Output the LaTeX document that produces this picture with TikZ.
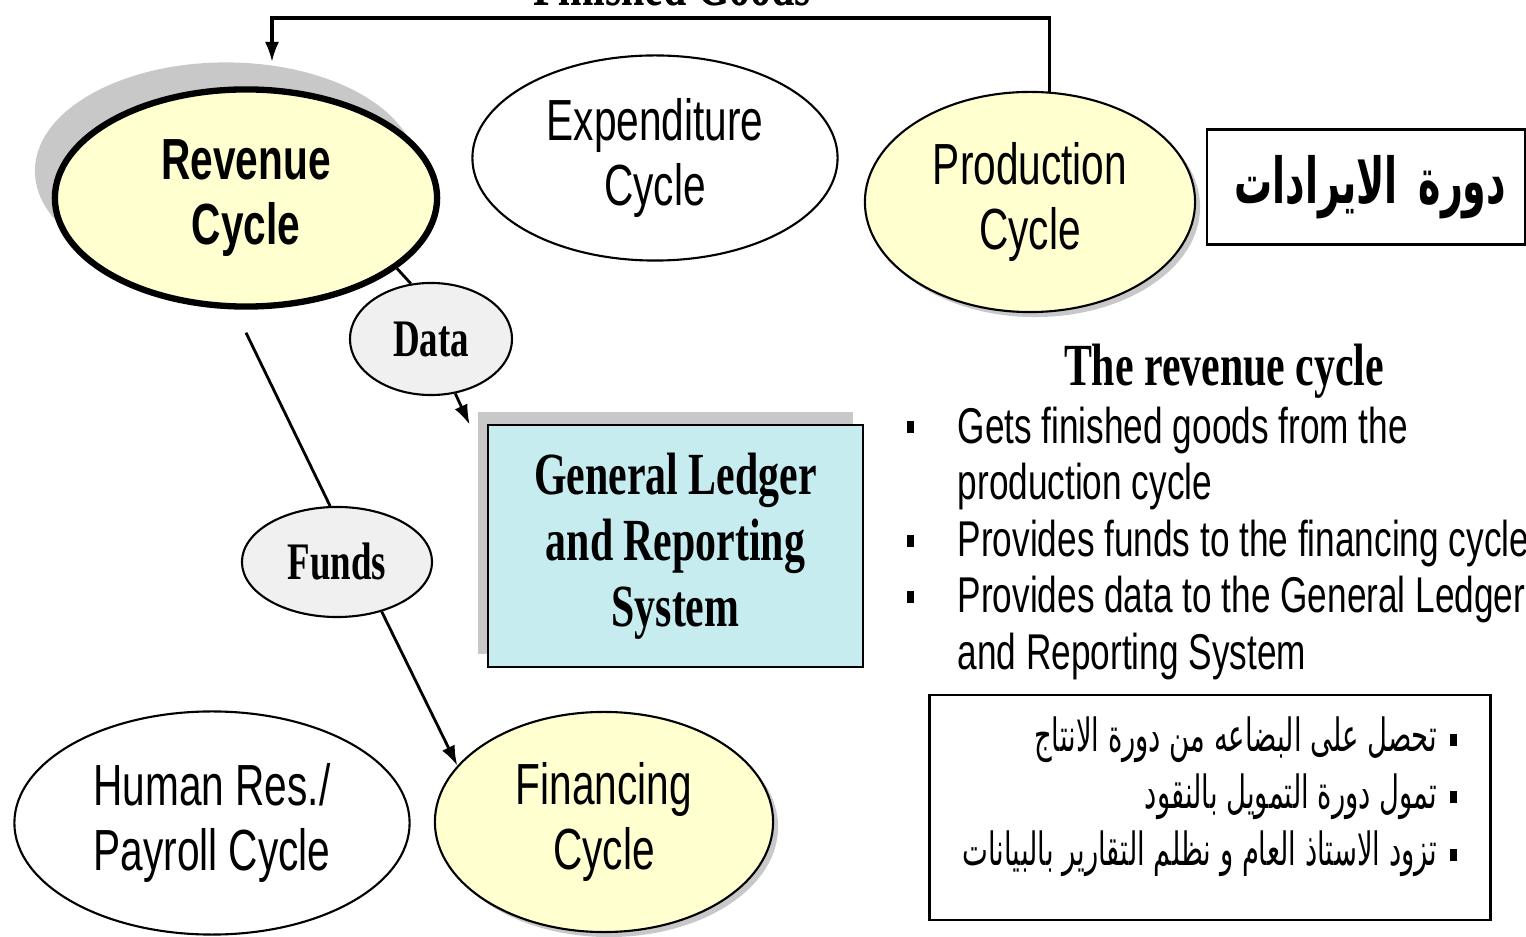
\documentclass[tikz,border=0pt]{standalone}
\usepackage{fontspec}
\setmainfont{Liberation Serif}
\newfontfamily\narrowsans[FakeStretch=0.7]{Liberation Sans}
\newfontfamily\narrowserif[FakeStretch=0.7]{Liberation Serif}
\newfontfamily\arabicfont[Script=Arabic, FakeStretch=0.6]{DejaVu Sans}
\TeXXeTstate=1
\usetikzlibrary{shapes.geometric, arrows.meta, shadows, calc, positioning}
\definecolor{cyclefill}{RGB}{255,255,208}
\definecolor{ledgerfill}{RGB}{198,236,240}
\definecolor{flowfill}{RGB}{240,240,240}
\definecolor{shadowgray}{RGB}{200,200,200}

\begin{document}
\begin{tikzpicture}[x=0.01cm, y=-0.01cm,
  cyclenode/.style={ellipse, draw=black, line width=0.6pt, fill=white, inner sep=0pt, align=center,
    font=\narrowsans\fontsize{16.5}{18.5}\selectfont},
  mainnode/.style={cyclenode, fill=cyclefill, line width=1.8pt, font=\narrowsans\bfseries\fontsize{16.5}{18.5}\selectfont,
    drop shadow={shadow xshift=-0.2cm, shadow yshift=0.27cm, fill=shadowgray, opacity=1}},
  linkednode/.style={cyclenode, fill=cyclefill,
    drop shadow={shadow xshift=0.05cm, shadow yshift=-0.05cm, fill=shadowgray, opacity=1}},
  flowlabel/.style={ellipse, draw=black, line width=0.6pt, fill=flowfill, inner sep=0pt,
    font=\narrowserif\bfseries\fontsize{15}{17}\selectfont},
  ledger/.style={rectangle, draw=black, line width=0.7pt, fill=ledgerfill, align=center, inner sep=0pt,
    font=\narrowserif\bfseries\fontsize{17}{18.8}\selectfont,
    drop shadow={shadow xshift=-0.1cm, shadow yshift=0.13cm, fill=shadowgray, opacity=1}},
  titletext/.style={font=\narrowserif\bfseries\fontsize{17}{19}\selectfont, inner sep=0pt},
  bullettext/.style={font=\narrowsans\fontsize{14.3}{16}\selectfont, anchor=base west, inner sep=0pt},
  arabline/.style={font=\arabicfont\fontsize{13}{15}\selectfont, anchor=base east, inner sep=0pt},
  sqbullet/.style={rectangle, fill=black, minimum width=0.07cm, minimum height=0.12cm, inner sep=0pt},
  framebox/.style={rectangle, draw=black, line width=0.8pt, fill=white, inner sep=0pt},
  flowline/.style={line width=0.8pt},
  arrow/.style={flowline, -{Latex[length=0.2cm, width=0.14cm]}}
]
\useasboundingbox (0,0) rectangle (1526,937);

% --- Zyklen ---
\node[mainnode, minimum width=3.82cm, minimum height=2.17cm] (rev) at (246,198) {Revenue\\Cycle};
\node[cyclenode, minimum width=3.65cm, minimum height=2.05cm] (exp) at (655,158) {Expenditure\\Cycle};
\node[linkednode, minimum width=3.3cm, minimum height=2.2cm] (prod) at (1030,202) {Production\\Cycle};
\node[cyclenode, minimum width=3.95cm, minimum height=2.23cm] (hr) at (212,823) {Human Res./\\Payroll Cycle};
\node[linkednode, minimum width=3.38cm, minimum height=2.2cm] (fin) at (604,822) {Financing\\Cycle};

% --- Datenfluesse ---
\node[flowlabel, minimum width=1.62cm, minimum height=1.12cm] (data) at (431,339) {Data};
\node[flowlabel, minimum width=1.9cm, minimum height=1.1cm] (funds) at (337,562) {Funds};
\node[ledger, minimum width=3.75cm, minimum height=2.42cm] (gl) at (675.5,546) {General Ledger\\and Reporting\\System};

% --- Titel rechts ---
\node[framebox, minimum width=3.18cm, minimum height=1.15cm, text width=2.8cm, align=right,
  font=\arabicfont\bfseries\fontsize{18}{20}\selectfont] (artitle) at (1366,187) {\beginR دورة الايرادات\endR};

\node[titletext, anchor=base] (fgoods) at (672,6) {Finished Goods};
\node[titletext, anchor=base] (rtitle) at (1224,386) {The revenue cycle};

% Aufzaehlung englisch
\node[bullettext] (line1) at (957,444) {Gets finished goods from the};
\node[bullettext] (line2) at (957,500) {production cycle};
\node[bullettext] (line3) at (957,557) {Provides funds to the financing cycle};
\node[bullettext] (line4) at (957,613) {Provides data to the General Ledger};
\node[bullettext] (line5) at (957,670) {and Reporting System};
\foreach \y [count=\i] in {427,541,597}
  \node[sqbullet] (bul\i) at (910,\y) {};

% Aufzaehlung arabisch
\node[framebox, minimum width=5.6cm, minimum height=2.25cm] (arbox) at (1210,807.5) {};
\node[arabline] (ar1) at (1438,752) {\beginR تحصل على البضاعه من دورة الانتاج\endR};
\node[arabline] (ar2) at (1438,809) {\beginR تمول دورة التمويل بالنقود\endR};
\node[arabline] (ar3) at (1438,866) {\beginR تزود الاستاذ العام و نظلم التقارير بالبيانات\endR};
\foreach \y [count=\i] in {740,797,855}
  \node[sqbullet] (arbul\i) at (1453,\y) {};

% Hilfspunkte
\coordinate (fgturn) at (272,18);
\coordinate (revtip) at (272,62);
\coordinate (revfoot) at ($(rev.south)+(0,23)$);
\coordinate (glin) at ($(gl.north west)+(-17,1)$);

% Verbindungen
\draw[arrow, line width=0.9pt] (prod.80) |- (fgturn) -- (revtip);
\draw[flowline] (rev.335) -- (data.110);
\draw[arrow] (data.294) -- (glin);
\draw[flowline] (revfoot) -- (funds.97);
\draw[arrow] (funds.312) -- (fin.159);
\end{tikzpicture}
\end{document}
